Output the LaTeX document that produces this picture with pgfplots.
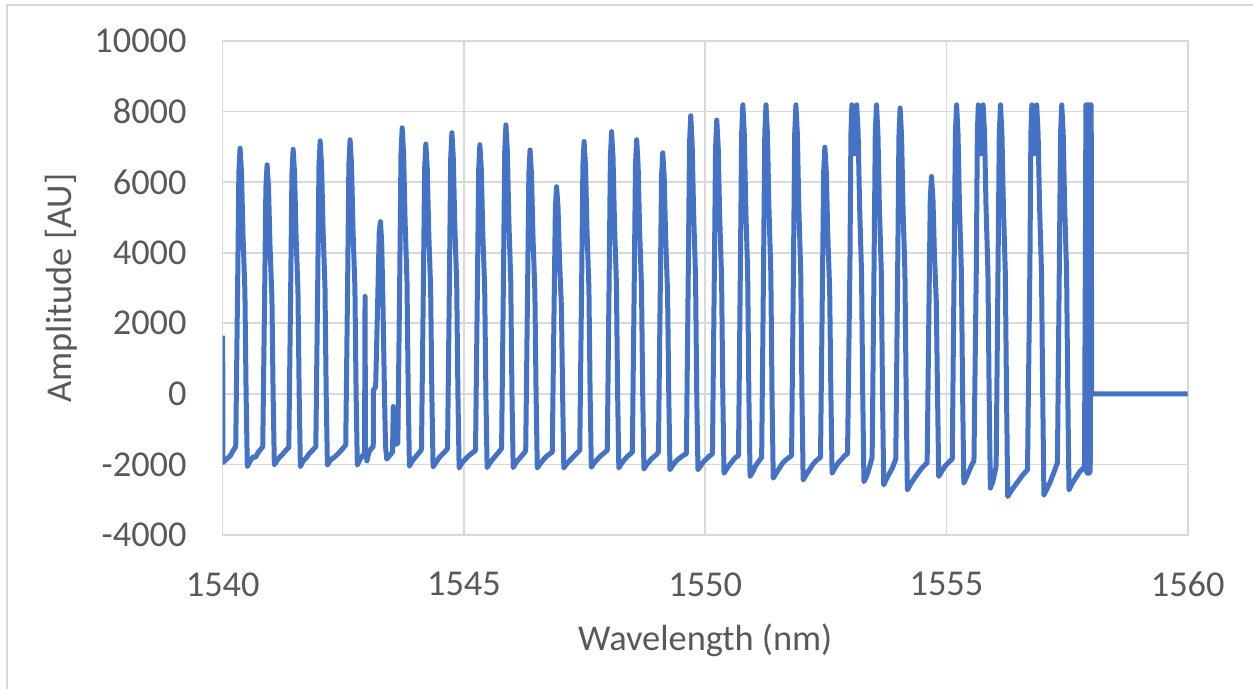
\documentclass[border=0pt]{standalone}
\usepackage{fontspec}
\setmainfont{Carlito}
\usepackage{pgfplots}
\pgfplotsset{compat=1.18}

\definecolor{excelblue}{HTML}{4472C4}
\definecolor{gridgray}{HTML}{D9D9D9}
\definecolor{labelgray}{HTML}{595959}

\begin{document}
\begin{tikzpicture}
% page = 1253x689 px at 0.5pt per px, origin at the plot's lower left corner
\path[use as bounding box] (-111.35pt,-77pt) rectangle (515.15pt,267.5pt);
\draw[gridgray, line width=0.8pt] (-107.85pt,-90pt) rectangle (530pt,265pt);
\begin{axis}[
  at={(0,0)}, anchor=south west,
  scale only axis, width=482.5pt, height=247pt,
  xmin=1540, xmax=1560, ymin=-4000, ymax=10000,
  xtick={1540,1545,1550,1555,1560},
  ytick={-4000,-2000,0,2000,4000,6000,8000,10000},
  scaled ticks=false,
  /pgf/number format/.cd, 1000 sep={}, assume math mode=true, /pgfplots/.cd,
  major tick length=0pt,
  grid=major,
  major grid style={gridgray, line width=0.8pt},
  axis line style={gridgray, line width=0.8pt},
  tick label style={font=\fontsize{18.2}{22}\selectfont, text=labelgray, inner sep=0pt},
  yticklabel style={anchor=east, xshift=-17.85pt},
  xticklabel style={anchor=north, yshift=-18.5pt},
  label style={font=\fontsize{18.2}{22}\selectfont, text=labelgray, inner sep=0pt},
  xlabel={Wavelength (nm)},
  xlabel style={at={(axis description cs:0.5,-0.2328)}, anchor=base},
  ylabel={Amplitude [AU]},
  ylabel style={at={(axis description cs:-0.1572,0.5)}, anchor=base, rotate=0},
]
\addplot[excelblue, line width=2.5pt, line join=round] coordinates {
 (1540.00,1650) (1540.005,-1950) (1540.08,-1850) (1540.16,-1750) (1540.22,-1600) (1540.27,-1500)
 (1540.31,3130) (1540.335,6260) (1540.36,6960) (1540.39,6260) (1540.42,4520) (1540.46,2920) (1540.485,0) (1540.51,-2060)
 (1540.57,-1900) (1540.63,-1780) (1540.68,-1800) (1540.74,-1650) (1540.80,-1550) (1540.83,-1500)
 (1540.87,2920) (1540.895,5840) (1540.92,6490) (1540.95,5840) (1540.98,4220) (1541.02,2730) (1541.045,0) (1541.07,-2010)
 (1541.13,-1880) (1541.19,-1780) (1541.25,-1700) (1541.31,-1600) (1541.37,-1520)
 (1541.41,3120) (1541.435,6240) (1541.46,6930) (1541.49,6240) (1541.52,4500) (1541.56,2910) (1541.585,0) (1541.61,-2060)
 (1541.67,-1900) (1541.73,-1820) (1541.79,-1700) (1541.86,-1600) (1541.93,-1500)
 (1541.97,3230) (1541.995,6450) (1542.02,7170) (1542.05,6450) (1542.08,4660) (1542.12,3010) (1542.145,0) (1542.17,-2020)
 (1542.23,-1880) (1542.31,-1800) (1542.39,-1700) (1542.47,-1580) (1542.55,-1450)
 (1542.59,3240) (1542.615,6480) (1542.64,7200) (1542.67,6480) (1542.70,4680) (1542.74,3020) (1542.765,0) (1542.79,-2020)
 (1542.85,-1850) (1542.90,-1750) (1542.94,-1700) (1542.95,2760) (1542.96,-1650)
 (1542.99,-1900) (1543.03,-1650) (1543.08,-1550) (1543.12,-1500) (1543.125,110) (1543.17,200)
 (1543.21,2500) (1543.245,4600) (1543.27,4880) (1543.295,4300) (1543.32,2660) (1543.355,-170) (1543.375,-1490) (1543.40,-1850)
 (1543.46,-1750) (1543.52,-1650) (1543.535,-360) (1543.55,-1450) (1543.63,-1400)
 (1543.67,3390) (1543.695,6790) (1543.72,7540) (1543.75,6790) (1543.78,4900) (1543.82,3170) (1543.845,0) (1543.87,-2050)
 (1543.93,-1900) (1543.99,-1800) (1544.05,-1700) (1544.11,-1600) (1544.12,-1550)
 (1544.16,3190) (1544.185,6370) (1544.21,7080) (1544.24,6370) (1544.27,4600) (1544.31,2970) (1544.335,0) (1544.36,-2070)
 (1544.42,-1950) (1544.49,-1800) (1544.56,-1700) (1544.62,-1620) (1544.66,-1550)
 (1544.70,3330) (1544.725,6660) (1544.75,7400) (1544.78,6660) (1544.81,4810) (1544.85,3110) (1544.875,0) (1544.90,-2100)
 (1544.96,-1950) (1545.03,-1850) (1545.10,-1750) (1545.17,-1680) (1545.24,-1600)
 (1545.28,3180) (1545.305,6350) (1545.33,7060) (1545.36,6350) (1545.39,4590) (1545.43,2970) (1545.455,0) (1545.48,-2090)
 (1545.54,-1950) (1545.60,-1850) (1545.66,-1750) (1545.72,-1650) (1545.78,-1550)
 (1545.82,3430) (1545.845,6860) (1545.87,7620) (1545.90,6860) (1545.93,4950) (1545.97,3200) (1545.995,0) (1546.02,-2090)
 (1546.08,-1950) (1546.14,-1850) (1546.20,-1750) (1546.25,-1680) (1546.28,-1600)
 (1546.32,3110) (1546.345,6220) (1546.37,6910) (1546.40,6220) (1546.43,4490) (1546.47,2900) (1546.495,0) (1546.52,-2100)
 (1546.58,-1980) (1546.65,-1860) (1546.72,-1760) (1546.78,-1700) (1546.83,-1650)
 (1546.87,2640) (1546.895,5280) (1546.92,5870) (1546.95,5280) (1546.98,3820) (1547.02,2470) (1547.045,0) (1547.07,-2100)
 (1547.13,-1980) (1547.20,-1880) (1547.27,-1780) (1547.34,-1680) (1547.40,-1600)
 (1547.44,3220) (1547.465,6440) (1547.49,7150) (1547.52,6440) (1547.55,4650) (1547.59,3000) (1547.615,0) (1547.64,-2080)
 (1547.70,-1950) (1547.77,-1850) (1547.84,-1750) (1547.91,-1670) (1547.97,-1600)
 (1548.01,3340) (1548.035,6690) (1548.06,7430) (1548.09,6690) (1548.12,4830) (1548.16,3120) (1548.185,0) (1548.21,-2100)
 (1548.27,-1960) (1548.33,-1860) (1548.39,-1770) (1548.45,-1700) (1548.49,-1650)
 (1548.53,3240) (1548.555,6480) (1548.58,7200) (1548.61,6480) (1548.64,4680) (1548.68,3020) (1548.705,0) (1548.73,-2130)
 (1548.79,-2000) (1548.86,-1880) (1548.93,-1790) (1548.99,-1720) (1549.03,-1650)
 (1549.07,3070) (1549.095,6150) (1549.12,6830) (1549.15,6150) (1549.18,4440) (1549.22,2870) (1549.245,0) (1549.27,-2150)
 (1549.33,-2020) (1549.40,-1900) (1549.47,-1820) (1549.54,-1750) (1549.61,-1700)
 (1549.65,3550) (1549.675,7090) (1549.70,7880) (1549.73,7090) (1549.76,5120) (1549.80,3310) (1549.825,0) (1549.85,-2150)
 (1549.91,-2030) (1549.97,-1920) (1550.03,-1840) (1550.09,-1760) (1550.15,-1700)
 (1550.19,3490) (1550.215,6980) (1550.24,7760) (1550.27,6980) (1550.30,5040) (1550.34,3260) (1550.365,0) (1550.39,-2250)
 (1550.45,-2120) (1550.51,-2000) (1550.57,-1900) (1550.63,-1800) (1550.69,-1750)
 (1550.73,3690) (1550.755,7370) (1550.78,8190) (1550.81,7370) (1550.84,5320) (1550.88,3440) (1550.905,0) (1550.93,-2340)
 (1550.99,-2200) (1551.04,-2050) (1551.09,-1950) (1551.14,-1850) (1551.17,-1800)
 (1551.21,3690) (1551.235,7370) (1551.26,8190) (1551.29,7370) (1551.32,5320) (1551.36,3440) (1551.385,0) (1551.41,-2390)
 (1551.47,-2250) (1551.54,-2100) (1551.61,-1950) (1551.69,-1850) (1551.79,-1750)
 (1551.83,3690) (1551.855,7370) (1551.88,8190) (1551.91,7370) (1551.94,5320) (1551.98,3440) (1552.005,0) (1552.03,-2440)
 (1552.09,-2300) (1552.16,-2150) (1552.23,-2000) (1552.31,-1880) (1552.39,-1800)
 (1552.43,3150) (1552.455,6290) (1552.48,6990) (1552.51,6290) (1552.54,4540) (1552.58,2940) (1552.605,0) (1552.63,-2250)
 (1552.69,-2100) (1552.76,-1950) (1552.83,-1850) (1552.89,-1750) (1552.95,-1700)
 (1553.00,3690) (1553.02,7370) (1553.04,8190) (1553.07,7200) (1553.09,6800) (1553.115,7800) (1553.14,8190)
 (1553.17,7370) (1553.20,5320) (1553.24,3440) (1553.265,0) (1553.29,-2490)
 (1553.34,-2350) (1553.39,-2150) (1553.43,-1950) (1553.46,-1800)
 (1553.50,3690) (1553.525,7370) (1553.55,8190) (1553.58,7370) (1553.61,5320) (1553.65,3440) (1553.675,0) (1553.70,-2580)
 (1553.76,-2400) (1553.82,-2250) (1553.88,-2100) (1553.92,-1950) (1553.95,-1850)
 (1553.99,3650) (1554.015,7290) (1554.04,8100) (1554.07,7290) (1554.10,5270) (1554.14,3400) (1554.165,0) (1554.19,-2720)
 (1554.26,-2550) (1554.33,-2400) (1554.41,-2250) (1554.49,-2100) (1554.60,-1950)
 (1554.64,2770) (1554.665,5540) (1554.69,6160) (1554.72,5540) (1554.75,4000) (1554.79,2590) (1554.815,0) (1554.84,-2340)
 (1554.90,-2200) (1554.97,-2050) (1555.04,-1950) (1555.09,-1880) (1555.12,-1850)
 (1555.16,3690) (1555.185,7370) (1555.21,8190) (1555.24,7370) (1555.27,5320) (1555.31,3440) (1555.335,0) (1555.36,-2530)
 (1555.42,-2350) (1555.48,-2150) (1555.53,-2000) (1555.57,-1900)
 (1555.62,3690) (1555.64,7370) (1555.66,8190) (1555.69,7200) (1555.71,6800) (1555.735,7800) (1555.76,8190)
 (1555.79,7370) (1555.82,5320) (1555.86,3440) (1555.885,0) (1555.91,-2670)
 (1555.96,-2500) (1556.00,-2250) (1556.03,-2050)
 (1556.07,3690) (1556.095,7370) (1556.12,8190) (1556.15,7370) (1556.18,5320) (1556.22,3440) (1556.245,0) (1556.27,-2910)
 (1556.34,-2750) (1556.42,-2600) (1556.50,-2450) (1556.58,-2300) (1556.68,-2150)
 (1556.73,3690) (1556.75,7370) (1556.77,8190) (1556.80,7200) (1556.82,6800) (1556.845,7800) (1556.87,8190)
 (1556.90,7370) (1556.93,5320) (1556.97,3440) (1556.995,0) (1557.02,-2870)
 (1557.08,-2700) (1557.15,-2500) (1557.22,-2250) (1557.30,-1950)
 (1557.34,3690) (1557.365,7370) (1557.39,8190) (1557.42,7370) (1557.45,5320) (1557.49,3440) (1557.515,0) (1557.54,-2720)
 (1557.60,-2550) (1557.67,-2400) (1557.74,-2250) (1557.80,-2150) (1557.84,-2100)
 (1557.86,-2150) (1557.88,4000) (1557.89,8190) (1557.90,-2200) (1557.91,8190) (1557.92,-2250) (1557.93,8190)
 (1557.94,-2250) (1557.95,8190) (1557.96,-2250) (1557.97,8190) (1557.98,-2200) (1557.99,8190) (1558.00,8190)
 (1558.01,0) (1560.00,0)
};
\end{axis}
\end{tikzpicture}
\end{document}
